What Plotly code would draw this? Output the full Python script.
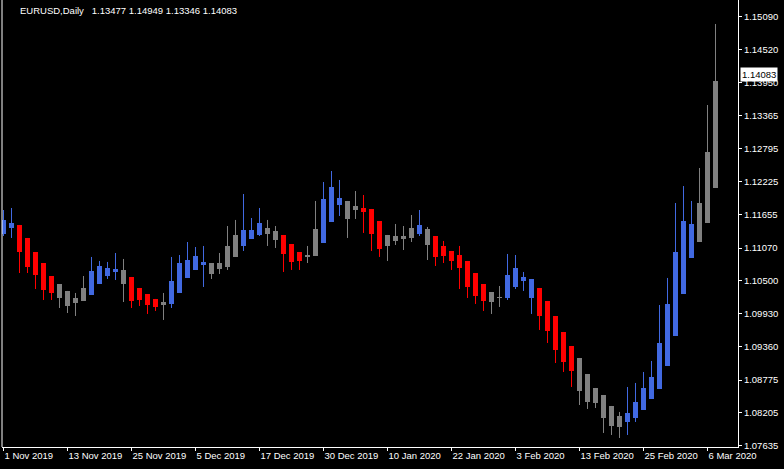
import plotly.graph_objects as go

# ---- data ----
tick_labels = ["1 Nov 2019", "13 Nov 2019", "25 Nov 2019", "5 Dec 2019", "17 Dec 2019",
               "30 Dec 2019", "10 Jan 2020", "22 Jan 2020", "3 Feb 2020", "13 Feb 2020",
               "25 Feb 2020", "6 Mar 2020"]

price_ticks = [1.15090, 1.14520, 1.13950, 1.13365, 1.12795, 1.12225, 1.11655,
               1.11070, 1.10500, 1.09930, 1.09360, 1.08775, 1.08205, 1.07635]

opens = [1.11314, 1.11419, 1.11471, 1.11245, 1.11001, 1.10810, 1.10584, 1.10445, 1.10324, 1.10202,
         1.10150, 1.10254, 1.10445, 1.10584, 1.10654, 1.10689, 1.10567, 1.10376, 1.10271, 1.10185,
         1.10132, 1.10098, 1.10289, 1.10550, 1.10689, 1.10775, 1.10810, 1.10706, 1.10741, 1.10915,
         1.11106, 1.11227, 1.11297, 1.11419, 1.11366, 1.11297, 1.11140, 1.11001, 1.10915, 1.10932,
         1.11158, 1.11523, 1.11818, 1.11888, 1.11731, 1.11766, 1.11749, 1.11540, 1.11297, 1.11193,
         1.11227, 1.11245, 1.11314, 1.11401, 1.11279, 1.11106, 1.11019, 1.10949, 1.10845, 1.10636,
         1.10445, 1.10306, 1.10219, 1.10202, 1.10393, 1.10497, 1.10532, 1.10376, 1.10150, 1.09889,
         1.09611, 1.09368, 1.09159, 1.08881, 1.08638, 1.08516, 1.08325, 1.08151, 1.08047, 1.08117,
         1.08256, 1.08447, 1.08620, 1.09020, 1.09542, 1.10271, 1.10897, 1.11175, 1.11505, 1.12114]

highs = [1.11731, 1.11766, 1.11471, 1.11245, 1.11001, 1.10810, 1.10584, 1.10445, 1.10324, 1.10289,
         1.10584, 1.10915, 1.10845, 1.10828, 1.10984, 1.10880, 1.10567, 1.10376, 1.10271, 1.10185,
         1.10289, 1.10915, 1.10949, 1.11175, 1.11088, 1.11106, 1.10810, 1.10984, 1.11453, 1.11558,
         1.12009, 1.11592, 1.11766, 1.11558, 1.11453, 1.11297, 1.11140, 1.11001, 1.11106, 1.11888,
         1.12218, 1.12409, 1.12253, 1.11888, 1.12061, 1.11992, 1.11749, 1.11540, 1.11297, 1.11488,
         1.11453, 1.11644, 1.11731, 1.11436, 1.11279, 1.11193, 1.11019, 1.11106, 1.10845, 1.10636,
         1.10445, 1.10306, 1.10410, 1.10967, 1.10949, 1.10654, 1.10532, 1.10376, 1.10150, 1.09889,
         1.09611, 1.09368, 1.09159, 1.08881, 1.08638, 1.08516, 1.08325, 1.08221, 1.08655, 1.08725,
         1.08916, 1.09107, 1.10080, 1.10550, 1.11853, 1.12148, 1.11888, 1.12461, 1.13556, 1.14964]

lows = [1.11279, 1.11245, 1.10636, 1.10636, 1.10358, 1.10167, 1.10167, 1.10028, 1.09941, 1.09889,
        1.10150, 1.10254, 1.10445, 1.10532, 1.10515, 1.10132, 1.10028, 1.10063, 1.09924, 1.09976,
        1.09820, 1.10028, 1.10289, 1.10550, 1.10689, 1.10393, 1.10532, 1.10619, 1.10689, 1.10915,
        1.11019, 1.11227, 1.11279, 1.11106, 1.11071, 1.10654, 1.10689, 1.10689, 1.10810, 1.10932,
        1.11158, 1.11523, 1.11627, 1.11245, 1.11575, 1.11332, 1.11019, 1.10915, 1.10845, 1.11123,
        1.11036, 1.11175, 1.11279, 1.10862, 1.10758, 1.10810, 1.10689, 1.10358, 1.10202, 1.10098,
        1.09976, 1.09924, 1.10046, 1.10167, 1.10358, 1.10324, 1.09924, 1.09646, 1.09420, 1.09072,
        1.08916, 1.08655, 1.08342, 1.08273, 1.08290, 1.07856, 1.07821, 1.07769, 1.07821, 1.08047,
        1.08256, 1.08447, 1.08620, 1.09020, 1.09542, 1.10271, 1.10897, 1.11175, 1.11505, 1.12114]

closes = [1.11558, 1.11505, 1.11001, 1.10741, 1.10602, 1.10341, 1.10289, 1.10202, 1.10063, 1.10115,
          1.10376, 1.10671, 1.10758, 1.10723, 1.10706, 1.10445, 1.10150, 1.10167, 1.10080, 1.10046,
          1.10080, 1.10497, 1.10810, 1.10862, 1.10932, 1.10828, 1.10619, 1.10810, 1.11106, 1.11297,
          1.11384, 1.11384, 1.11505, 1.11314, 1.11210, 1.10967, 1.10828, 1.10845, 1.10949, 1.11401,
          1.11923, 1.12131, 1.11940, 1.11575, 1.11801, 1.11697, 1.11314, 1.11054, 1.11106, 1.11279,
          1.11279, 1.11419, 1.11471, 1.11123, 1.10915, 1.10932, 1.10845, 1.10723, 1.10393, 1.10237,
          1.10150, 1.10132, 1.10202, 1.10602, 1.10723, 1.10567, 1.10202, 1.09889, 1.09628, 1.09298,
          1.09090, 1.08933, 1.08586, 1.08394, 1.08377, 1.08117, 1.07977, 1.07960, 1.08203, 1.08394,
          1.08638, 1.08829, 1.09420, 1.10098, 1.11001, 1.11540, 1.11488, 1.11853, 1.12739, 1.13973]

# candle colour class: B = blue, R = red, G = gray
kinds = list("BBRRRRRGGGGBBBBGRRRRGBBBBBGGGGBBBGGRRRGGBBBGGRRRGGGGBGRRRRRRRGGBBBBRRRRRGGGGGGBBBBBBBBBGGG")

symbol_text = "EURUSD,Daily\u00a0\u00a0 1.13477 1.14949 1.13346 1.14083"
last_price = 1.14083

# ---- styling ----
palette = {"B": "#4169E1", "R": "#FF0000", "G": "#808080"}
FONT = "Liberation Sans, Arial, sans-serif"

n = len(opens)
xs = list(range(n))

fig = go.Figure()

# wicks (one trace per colour)
for k in ["B", "R", "G"]:
    wx, wy = [], []
    for i in xs:
        if kinds[i] == k:
            wx += [i, i, None]
            wy += [lows[i], highs[i], None]
    fig.add_trace(go.Scatter(x=wx, y=wy, mode="lines",
                             line=dict(color=palette[k], width=1),
                             hoverinfo="skip", showlegend=False))

# bodies
base = [min(o, c) for o, c in zip(opens, closes)]
height = [abs(c - o) for o, c in zip(opens, closes)]
fig.add_trace(go.Bar(x=xs, y=height, base=base, width=0.625,
                     marker=dict(color=[palette[k] for k in kinds], line=dict(width=0)),
                     showlegend=False, hoverinfo="skip"))

fig.update_layout(
    width=784, height=469,
    paper_bgcolor="black", plot_bgcolor="black",
    margin=dict(l=2, r=46, t=0, b=22),
    bargap=0, showlegend=False,
    font=dict(family=FONT, size=9.5, color="white"),
)

fig.update_xaxes(
    range=[-0.1875, 91.8125], showgrid=False, zeroline=False,
    showline=True, linecolor="white", linewidth=1,
    ticks="outside", ticklen=3, tickcolor="white", tickwidth=1,
    tickvals=list(range(0, 8 * len(tick_labels), 8)), ticktext=tick_labels,
    ticklabelposition="outside right",
    tickfont=dict(family=FONT, size=9.5, color="white"),
)

fig.update_yaxes(
    side="right", range=[1.07612, 1.15381], showgrid=False, zeroline=False,
    showline=True, linecolor="white", linewidth=1,
    ticks="outside", ticklen=3, tickcolor="white", tickwidth=1,
    tickvals=price_ticks, ticktext=[f"{v:.5f}" for v in price_ticks],
    tickfont=dict(family=FONT, size=9.5, color="white"),
)

# left border
fig.add_shape(type="line", xref="paper", yref="paper", x0=0, x1=0, y0=0, y1=1,
              line=dict(color="white", width=1))

# symbol / OHLC text
fig.add_annotation(xref="paper", yref="paper", x=0.0217, y=0.9765,
                   xanchor="left", yanchor="middle", showarrow=False,
                   text=symbol_text, font=dict(family=FONT, size=9.5, color="white"))

# current price label
fig.add_annotation(xref="paper", yref="y", x=1, y=last_price, xshift=2,
                   xanchor="left", yanchor="middle", showarrow=False,
                   text=f"{last_price:.5f}", bgcolor="white", borderpad=1,
                   font=dict(family=FONT, size=9.5, color="black"))

fig.write_html("out.html",
               config={"displayModeBar": False},
               post_script="document.body.style.margin='0';document.body.style.background='black';")
